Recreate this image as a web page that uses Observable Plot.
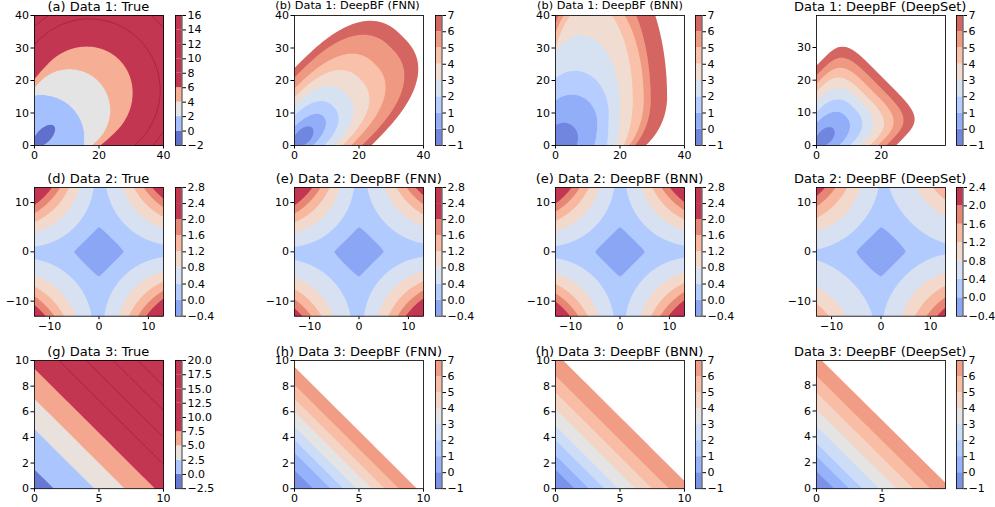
<!DOCTYPE html>
<html><head><meta charset="utf-8">
<script src="https://cdn.jsdelivr.net/npm/d3@7"></script>
<script src="https://cdn.jsdelivr.net/npm/@observablehq/plot@0.6"></script>
<style>
body{margin:0;background:#fff;}
#fig{position:relative;width:995px;height:507px;overflow:hidden;font-family:"DejaVu Sans",sans-serif;background:#fff;}
#fig svg{position:absolute;overflow:visible;}
.ttl{position:absolute;white-space:nowrap;transform:translate(-50%,-50%);color:#000;line-height:1;}
</style></head><body><div id="fig"></div>
<script>
// ---------------- data ----------------
const titles = [
  ["(a) Data 1: True", "(b) Data 1: DeepBF (FNN)", "(b) Data 1: DeepBF (BNN)", "Data 1: DeepBF (DeepSet)"],
  ["(d) Data 2: True", "(e) Data 2: DeepBF (FNN)", "(e) Data 2: DeepBF (BNN)", "Data 2: DeepBF (DeepSet)"],
  ["(g) Data 3: True", "(h) Data 3: DeepBF (FNN)", "(h) Data 3: DeepBF (BNN)", "Data 3: DeepBF (DeepSet)"]
];
// colorbar levels (tick labels)
const d1TrueLevels = [-2, 0, 2, 4, 6, 8, 10, 12, 14, 16];
const d1ModelLevels = [-1, 0, 1, 2, 3, 4, 5, 6, 7];
const d2Levels = [-0.4, 0, 0.4, 0.8, 1.2, 1.6, 2.0, 2.4, 2.8];
const d2DeepSetLevels = [-0.4, 0, 0.4, 0.8, 1.2, 1.6, 2.0, 2.4];
const d3TrueLevels = [-2.5, 0, 2.5, 5, 7.5, 10, 12.5, 15, 17.5, 20];
const d3ModelLevels = [-1, 0, 1, 2, 3, 4, 5, 6, 7];
// colour normalisation
const d1Norm = [-1, 7], d2Norm = [-0.66, 2.2], d3Norm = [-1.5, 8.5];

// Data 1: contour outlines, one per level
// [cx, cy, halfAxisFront, halfAxisBack, halfWidth, angleDeg, roundness]
const d1TrueContourLevels = [0, 2, 4, 6, 8, 10, 12, 14, 16];
const d1TrueShapes = [
  [3, 3, 4.3, 4.3, 2.2, 45, 2],
  [2, 2, 13.6, 13.6, 13.6, 45, 2],
  [10.8, 10.8, 12.7, 22, 12.7, 45, 2],
  [15.1, 15.1, 15.9, 30, 14.8, 45, 2],
  [17, 17, 22, 38, 22, 45, 2],
  [17, 17, 30, 45, 26, 45, 2],
  [17, 17, 36, 50, 29, 45, 2],
  [17, 17, 42, 55, 32, 45, 2],
  [17, 17, 48, 60, 35, 45, 2]
];
const d1ModelContourLevels = [0, 1, 2, 3, 4, 5, 6, 7];
const d1FnnShapes = [
  [2.8, 2.8, 3.8, 4, 2.3, 45, 2],
  [2.9, 2.9, 8.6, 8.6, 4.1, 45, 2.2],
  [4.6, 4.6, 10.5, 10.5, 6.5, 45, 2.3],
  [6.15, 6.15, 13.9, 13.9, 8.7, 45, 2.4],
  [7.45, 7.45, 18.3, 18.3, 10.5, 45, 2.5],
  [8.8, 8.8, 22.9, 22.9, 12.4, 45, 2.5],
  [12, 12, 25.5, 30, 14.8, 45, 2.5],
  [13, 13, 29, 35, 16.8, 45, 2.6]
];
const d1BnnShapes = [
  [2.5, 2.5, 4.5, 6, 4.5, 90, 2],
  [5, 7, 8.7, 14.5, 8, 90, 2],
  [6, 10, 13, 33, 10.5, 90, 2],
  [8, 12, 22, 28, 12, 90, 2],
  [11, 14, 30, 22.6, 13, 90, 2],
  [12, 14, 33, 19.6, 15.4, 90, 2],
  [13, 14, 38, 19.7, 16.5, 90, 2],
  [14, 14.9, 44, 20.2, 20.6, 90, 2]
];
const d1DeepSetShapes = [
  [2.8, 2.8, 3.4, 4, 2.2, 45, 2],
  [3.5, 3.5, 7.8, 9, 4.95, 45, 2.4],
  [5.15, 5.15, 9.0, 12, 7.28, 45, 2.8],
  [6.75, 6.75, 9.5, 14, 9.55, 45, 3.2],
  [8.25, 8.25, 9.9, 17, 11.67, 45, 3.6],
  [9.5, 9.5, 10.6, 20, 13.4, 45, 4],
  [10.75, 10.75, 11.3, 22, 15.2, 45, 4.5],
  [12.25, 12.25, 11.8, 25, 17.3, 45, 5]
];
// Data 2: [true, FNN, BNN, DeepSet]
const d2Amp = [0.35, 0.35, 0.35, 0.4];
const d2Core = [5, 5, 5, 5];
const d2Coef = [0.00109, 0.00105, 0.00112, 0.0007];
const d2Pow = [1.5, 1.5, 1.5, 1.5];
const d2Skew = [0.2, 0.3, 0.05, 0.4];
// Data 3: value of x+y where each level's contour sits
const d3TrueSums = [-1.2, 1.5, 4.65, 7.0, 9.35, 11.9, 14.0, 16.1, 18.0, 19.9];
const d3FnnSums = [-0.4, 1.45, 2.8, 3.8, 4.8, 6.0, 7.0, 8.1, 9.5];
const d3BnnSums = [-0.4, 1.5, 2.6, 3.8, 4.9, 6.2, 7.5, 8.8, 10.6];
const d3DeepSetSums = [-0.4, 1.35, 2.5, 3.5, 4.8, 6.1, 7.4, 8.7, 10.3];

// axes
const d1Domain = [0, 40], d1DeepSetDomain = [0, 39.8];
const d1XTicks = [0, 20, 40], d1YTicks = [0, 10, 20, 30, 40];
const d1DeepSetXTicks = [0, 20], d1DeepSetYTicks = [0, 10, 20, 30];
const d2Domain = [-13.05, 13.05], d2Ticks = [-10, 0, 10];
const d3Domain = [0, 10], d3DeepSetXDomain = [0, 9.84], d3DeepSetYDomain = [0, 9.9];
const d3XTicks = [0, 5, 10], d3YTicks = [0, 2, 4, 6, 8, 10];
const d3DeepSetXTicks = [0, 5], d3DeepSetYTicks = [0, 2, 4, 6, 8];

// ---------------- colour map (matplotlib coolwarm, alpha 0.8) ----------------
const coolwarmTable = [[59,76,192],[68,90,204],[77,104,215],[87,117,225],[98,130,234],[108,142,241],[119,154,247],[130,165,251],[141,176,254],[152,185,255],[163,194,255],[174,201,253],[184,208,249],[194,213,244],[204,217,238],[213,219,230],[221,221,221],[229,216,209],[236,211,197],[241,204,185],[245,196,173],[247,187,160],[247,177,148],[247,166,135],[244,154,123],[241,141,111],[236,127,99],[229,112,88],[222,96,77],[213,80,66],[203,62,56],[192,40,47],[180,4,38]];
function coolwarm(t) {
  t = Math.max(0, Math.min(1, t));
  const x = t * 32, i = Math.min(31, Math.floor(x)), f = x - i;
  const a = coolwarmTable[i], b = coolwarmTable[i + 1];
  const c = [0, 1, 2].map(k => (a[k] + (b[k] - a[k]) * f) * 0.8 + 255 * 0.2);
  return `rgb(${c.map(Math.round).join(",")})`;
}
function bandColors(levels, norm) {
  return levels.slice(0, -1).map((lo, i) => coolwarm(((lo + levels[i + 1]) / 2 - norm[0]) / (norm[1] - norm[0])));
}

// ---------------- fields ----------------
function shapeDist(s, x, y) {
  const [cx, cy, ap, an, b, ang, p] = s;
  const th = ang * Math.PI / 180, dx = x - cx, dy = y - cy;
  const u = dx * Math.cos(th) + dy * Math.sin(th), v = -dx * Math.sin(th) + dy * Math.cos(th);
  const a = u >= 0 ? ap : an;
  return Math.pow(Math.pow(Math.abs(u) / a, p) + Math.pow(Math.abs(v) / b, p), 1 / p);
}
function shapeField(levels, shapes) {
  return (x, y) => {
    const q = shapes.map(s => shapeDist(s, x, y));
    if (q[0] <= 1) return levels[0] - (1 - q[0]) * 0.9 * (levels[1] - levels[0]);
    for (let i = 1; i < q.length; i++) {
      if (q[i] <= 1) { const t = (q[i - 1] - 1) / (q[i - 1] - q[i]); return levels[i - 1] + t * (levels[i] - levels[i - 1]); }
    }
    const n = q.length - 1;
    return levels[n] + (q[n] - 1) * 3 * (levels[n] - levels[n - 1]);
  };
}
function d2Field(k) {
  return (x, y) => {
    const r = 1.15;
    const s = Math.pow(Math.pow(Math.abs(x), r) + Math.pow(Math.abs(y), r), 1 / r);
    return d2Amp[k] * Math.tanh((s - d2Core[k]) / d2Core[k]) + d2Coef[k] * Math.pow(Math.abs(x * y), d2Pow[k]) - d2Skew[k] * x * y / 169;
  };
}
function d3Field(sums, levels) {
  const sc = d3.scaleLinear().domain(sums).range(levels);
  return (x, y) => sc(x + y);
}

// ---------------- panels ----------------
const panels = [
  {field: shapeField(d1TrueContourLevels, d1TrueShapes), levels: d1TrueLevels, norm: d1Norm, lines: [8, 10, 12, 14], xd: d1Domain, yd: d1Domain, xt: d1XTicks, yt: d1YTicks, fmt: "d"},
  {field: shapeField(d1ModelContourLevels, d1FnnShapes), levels: d1ModelLevels, norm: d1Norm, mask: 7, xd: d1Domain, yd: d1Domain, xt: d1XTicks, yt: d1YTicks, fmt: "d"},
  {field: shapeField(d1ModelContourLevels, d1BnnShapes), levels: d1ModelLevels, norm: d1Norm, mask: 7, xd: d1Domain, yd: d1Domain, xt: d1XTicks, yt: d1YTicks, fmt: "d"},
  {field: shapeField(d1ModelContourLevels, d1DeepSetShapes), levels: d1ModelLevels, norm: d1Norm, mask: 7, xd: d1DeepSetDomain, yd: d1DeepSetDomain, xt: d1DeepSetXTicks, yt: d1DeepSetYTicks, fmt: "d"},
  {field: d2Field(0), levels: d2Levels, norm: d2Norm, xd: d2Domain, yd: d2Domain, xt: d2Ticks, yt: d2Ticks, fmt: ".1f"},
  {field: d2Field(1), levels: d2Levels, norm: d2Norm, xd: d2Domain, yd: d2Domain, xt: d2Ticks, yt: d2Ticks, fmt: ".1f"},
  {field: d2Field(2), levels: d2Levels, norm: d2Norm, xd: d2Domain, yd: d2Domain, xt: d2Ticks, yt: d2Ticks, fmt: ".1f"},
  {field: d2Field(3), levels: d2DeepSetLevels, norm: d2Norm, xd: d2Domain, yd: d2Domain, xt: d2Ticks, yt: d2Ticks, fmt: ".1f"},
  {field: d3Field(d3TrueSums, d3TrueLevels), levels: d3TrueLevels, norm: d3Norm, lines: [10, 12.5, 15, 17.5], xd: d3Domain, yd: d3Domain, xt: d3XTicks, yt: d3YTicks, fmt: ".1f"},
  {field: d3Field(d3FnnSums, d3ModelLevels), levels: d3ModelLevels, norm: d3Norm, mask: 7, xd: d3Domain, yd: d3Domain, xt: d3XTicks, yt: d3YTicks, fmt: "d"},
  {field: d3Field(d3BnnSums, d3ModelLevels), levels: d3ModelLevels, norm: d3Norm, mask: 7, xd: d3Domain, yd: d3Domain, xt: d3XTicks, yt: d3YTicks, fmt: "d"},
  {field: d3Field(d3DeepSetSums, d3ModelLevels), levels: d3ModelLevels, norm: d3Norm, mask: 7, xd: d3DeepSetXDomain, yd: d3DeepSetYDomain, xt: d3DeepSetXTicks, yt: d3DeepSetYTicks, fmt: "d"}
];

// ---------------- layout ----------------
const colLeft = [33.8, 294.3, 555, 815.7];
const cbLeft = [175, 435.3, 695, 956];
const rowTop = [15, 187.3, 359.5];
const rowH = [130, 128.7, 128.2];
const frameW = 129, cbW = 6.5;
const titleSize = [[13, 11.3, 11.3, 13], [13, 13, 13, 13], [13, 13, 13, 13]];
const titleShift = [[0, -11.3, -9.5, 0], [0, 0, 0, 0], [0, 0, 0, 0]];
const fig = document.getElementById("fig");
const style = {fontSize: "11px", fontFamily: "DejaVu Sans, sans-serif", color: "#000", background: "transparent", overflow: "visible"};

panels.forEach((p, k) => {
  const r = Math.floor(k / 4), c = k % 4, h = rowH[r];
  const colors = bandColors(p.levels, p.norm);
  const thr = p.levels.slice(0, -1);
  const [x1, x2] = p.xd, [y1, y2] = p.yd;
  const marks = thr.map((t, i) => Plot.contour({value: p.field, x1, x2, y1, y2, thresholds: [t], fill: colors[i], stroke: "none", pixelSize: 1}));
  if (p.mask != null) marks.push(Plot.contour({value: p.field, x1, x2, y1, y2, thresholds: [p.mask], fill: "#fff", stroke: "none", pixelSize: 1}));
  if (p.lines) marks.push(Plot.contour({value: p.field, x1, x2, y1, y2, thresholds: p.lines, fill: "none", stroke: "#9e1b3b", strokeWidth: 0.7, pixelSize: 1}));
  marks.push(Plot.frame({stroke: "#000", strokeWidth: 0.8}));
  const mL = 40, mR = 6, mT = 6, mB = 24;
  const svg = Plot.plot({
    width: frameW + mL + mR, height: h + mT + mB,
    marginLeft: mL, marginRight: mR, marginTop: mT, marginBottom: mB,
    x: {domain: p.xd, ticks: p.xt, tickSize: 3.5, tickPadding: 2, label: null},
    y: {domain: p.yd, ticks: p.yt, tickSize: 3.5, tickPadding: 2, label: null},
    style, marks
  });
  svg.style.left = (colLeft[c] - mL) + "px";
  svg.style.top = (rowTop[r] - mT) + "px";
  fig.appendChild(svg);

  // colorbar
  const bands = thr.map((lo, i) => ({lo, hi: p.levels[i + 1], c: colors[i]}));
  const cL = 1, cR = 40, cT = 8, cB = 8;
  const cb = Plot.plot({
    width: cbW + cL + cR, height: h + cT + cB,
    marginLeft: cL, marginRight: cR, marginTop: cT, marginBottom: cB,
    x: {domain: [0, 1], axis: null},
    y: {domain: [p.levels[0], p.levels[p.levels.length - 1]], axis: "right", ticks: p.levels, tickFormat: d3.format(p.fmt), tickSize: 3.5, tickPadding: 2, label: null},
    color: {type: "identity"},
    style,
    marks: [
      Plot.rect(bands, {x1: () => 0, x2: () => 1, y1: "lo", y2: "hi", fill: "c"}),
      Plot.frame({stroke: "#000", strokeWidth: 0.8})
    ]
  });
  cb.style.left = (cbLeft[c] - cL) + "px";
  cb.style.top = (rowTop[r] - cT) + "px";
  fig.appendChild(cb);

  const t = document.createElement("div");
  t.className = "ttl";
  t.textContent = titles[r][c];
  t.style.fontSize = titleSize[r][c] + "px";
  t.style.left = (colLeft[c] + frameW / 2 + titleShift[r][c]) + "px";
  t.style.top = (rowTop[r] - 9) + "px";
  fig.appendChild(t);
});
</script></body></html>
